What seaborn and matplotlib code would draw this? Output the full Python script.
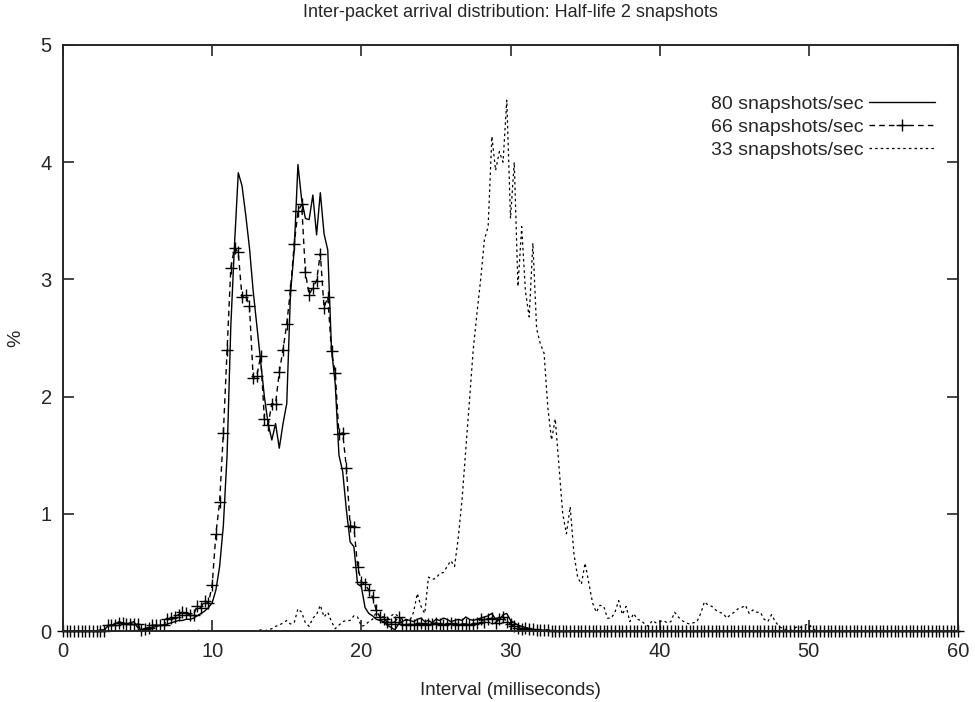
import numpy as np
import pandas as pd
import matplotlib
matplotlib.use('Agg')
import matplotlib.pyplot as plt
import seaborn as sns

# intervalos em bins de 0.25 ms, 0 .. 60
intervalo = np.arange(0, 60.001, 0.25)

# 80 snapshots/sec (linha cheia)
s80 = [
    0, 0, 0, 0, 0, 0, 0, 0, 0, 0, 0.01, 0.01, 0.04, 0.05, 0.06, 0.08, 0.07, 0.06, 0.07, 0.08,          # 0-5
    0.03, 0.01, 0.02, 0.03, 0.03, 0.04, 0.05, 0.05, 0.06, 0.07, 0.08, 0.09, 0.09, 0.10, 0.10, 0.11, 0.13, 0.15, 0.17, 0.20,  # 5-10
    0.24, 0.35, 0.55, 0.90, 1.50, 2.60, 3.30, 3.91, 3.80, 3.55, 3.27, 2.90, 2.60, 2.30, 2.00, 1.77, 1.63, 1.77, 1.56, 1.77,  # 10-15
    1.94, 2.88, 3.25, 3.98, 3.68, 3.52, 3.51, 3.72, 3.38, 3.74, 3.39, 3.25, 2.40, 2.11, 1.50, 1.36, 1.03, 0.76, 0.72, 0.40,  # 15-20
    0.38, 0.20, 0.15, 0.13, 0.10, 0.09, 0.08, 0.05, 0.03, 0.01, 0.06, 0.08, 0.10, 0.09, 0.08, 0.10, 0.11, 0.08, 0.09, 0.07,  # 20-25
    0.10, 0.09, 0.11, 0.10, 0.08, 0.09, 0.10, 0.09, 0.12, 0.10, 0.09, 0.10, 0.11, 0.12, 0.13, 0.15, 0.10, 0.09, 0.14, 0.15,  # 25-30
    0.09, 0.07, 0.05, 0.04, 0.03, 0.02, 0.01, 0.01, 0.01, 0, 0, 0, 0, 0, 0, 0, 0, 0, 0, 0,        # 30-35
    0, 0, 0, 0, 0, 0, 0, 0, 0, 0, 0, 0, 0, 0, 0, 0, 0, 0, 0, 0,        # 35-40
    0, 0, 0, 0, 0, 0, 0, 0, 0, 0, 0, 0, 0, 0, 0, 0, 0, 0, 0, 0,        # 40-45
    0, 0, 0, 0, 0, 0, 0, 0, 0, 0, 0, 0, 0, 0, 0, 0, 0, 0, 0, 0,        # 45-50
    0, 0, 0, 0, 0, 0, 0, 0, 0, 0, 0, 0, 0, 0, 0, 0, 0, 0, 0, 0,        # 50-55
    0, 0, 0, 0, 0, 0, 0, 0, 0, 0, 0, 0, 0, 0, 0, 0, 0, 0, 0, 0,        # 55-60
    0,
]

# 66 snapshots/sec (tracejada com +)
s66 = [
    0, 0, 0, 0, 0, 0, 0, 0, 0, 0, 0, 0, 0.05, 0.05, 0.05, 0.07, 0.07, 0.06, 0.06, 0.06,               # 0-5
    0.06, 0.01, 0.02, 0.03, 0.05, 0.05, 0.05, 0.05, 0.10, 0.11, 0.12, 0.14, 0.16, 0.15, 0.14, 0.14, 0.21, 0.20, 0.26, 0.24,  # 5-10
    0.39, 0.83, 1.10, 1.69, 2.40, 3.10, 3.27, 3.23, 2.85, 2.87, 2.77, 2.16, 2.18, 2.35, 1.81, 1.76, 1.94, 1.94, 2.21, 2.40,  # 10-15
    2.62, 2.91, 3.30, 3.58, 3.64, 3.06, 2.87, 2.93, 2.99, 3.22, 2.76, 2.85, 2.39, 2.20, 1.68, 1.69, 1.39, 0.90, 0.89, 0.55,  # 15-20
    0.42, 0.40, 0.35, 0.29, 0.18, 0.12, 0.10, 0.08, 0.06, 0.08, 0.12, 0.06, 0.05, 0.06, 0.05, 0.06, 0.07, 0.05, 0.06, 0.06,  # 20-25
    0.07, 0.06, 0.05, 0.06, 0.07, 0.06, 0.05, 0.06, 0.06, 0.05, 0.06, 0.07, 0.10, 0.08, 0.10, 0.11, 0.07, 0.10, 0.12, 0.08,  # 25-30
    0.06, 0.04, 0.03, 0.02, 0.03, 0.02, 0.02, 0.01, 0.01, 0.01, 0.01, 0, 0, 0, 0, 0, 0, 0, 0, 0,     # 30-35
    0, 0, 0, 0, 0, 0, 0, 0, 0, 0, 0, 0, 0, 0, 0, 0, 0, 0, 0, 0,        # 35-40
    0, 0, 0, 0, 0, 0, 0, 0, 0, 0, 0, 0, 0, 0, 0, 0, 0, 0, 0, 0,        # 40-45
    0, 0, 0, 0, 0, 0, 0, 0, 0, 0, 0, 0, 0, 0, 0, 0, 0, 0, 0, 0,        # 45-50
    0, 0, 0, 0, 0, 0, 0, 0, 0, 0, 0, 0, 0, 0, 0, 0, 0, 0, 0, 0,        # 50-55
    0, 0, 0, 0, 0, 0, 0, 0, 0, 0, 0, 0, 0, 0, 0, 0, 0, 0, 0, 0,        # 55-60
    0,
]

# 33 snapshots/sec (pontilhada)
s33 = [
    0, 0, 0, 0, 0, 0, 0, 0, 0, 0, 0, 0, 0, 0, 0, 0, 0, 0, 0, 0,        # 0-5
    0, 0, 0, 0, 0, 0, 0, 0, 0, 0, 0, 0, 0, 0, 0, 0, 0.01, 0, 0, 0,     # 5-10
    0, 0, 0, 0, 0, 0, 0, 0, 0, 0, 0, 0, 0, 0.01, 0, 0.01, 0.02, 0.04, 0.05, 0.07,                       # 10-15
    0.09, 0.06, 0.07, 0.19, 0.16, 0.07, 0.04, 0.11, 0.14, 0.22, 0.12, 0.16, 0.08, 0.02, 0.05, 0.08, 0.09, 0.09, 0.13, 0.12,  # 15-20
    0.04, 0.05, 0.08, 0.10, 0.16, 0.13, 0.12, 0.10, 0.13, 0.15, 0.12, 0.10, 0.09, 0.09, 0.16, 0.32, 0.21, 0.15, 0.46, 0.44,  # 20-25
    0.45, 0.49, 0.50, 0.55, 0.60, 0.55, 0.80, 1.12, 1.54, 1.97, 2.40, 2.71, 3.00, 3.34, 3.45, 4.22, 3.93, 4.09, 4.00, 4.53,  # 25-30
    3.52, 4.00, 2.94, 3.45, 2.90, 2.68, 3.31, 2.58, 2.45, 2.37, 1.91, 1.63, 1.81, 1.40, 1.00, 0.83, 1.06, 0.66, 0.46, 0.40,  # 30-35
    0.58, 0.41, 0.24, 0.16, 0.22, 0.21, 0.11, 0.11, 0.16, 0.26, 0.14, 0.21, 0.08, 0.15, 0.10, 0.09, 0.06, 0.04, 0.09, 0.07,  # 35-40
    0.08, 0.09, 0.07, 0.08, 0.16, 0.12, 0.09, 0.07, 0.06, 0.07, 0.08, 0.15, 0.25, 0.22, 0.21, 0.18, 0.16, 0.15, 0.11, 0.14,  # 40-45
    0.16, 0.19, 0.20, 0.22, 0.15, 0.18, 0.16, 0.16, 0.10, 0.08, 0.14, 0.08, 0.04, 0.02, 0.01, 0, 0.02, 0.04, 0.03, 0.05,      # 45-50
    0.06, 0.02, 0, 0, 0, 0, 0, 0, 0, 0, 0, 0, 0, 0, 0, 0, 0, 0, 0, 0,  # 50-55
    0, 0, 0, 0, 0, 0, 0, 0, 0, 0, 0, 0, 0, 0, 0, 0, 0, 0, 0, 0,        # 55-60
    0,
]

rotulos = ['80 snapshots/sec', '66 snapshots/sec', '33 snapshots/sec']

sns.set_style('ticks')
plt.rcParams['font.family'] = ['Liberation Sans', 'DejaVu Sans']

fig = plt.figure(figsize=(9.75, 7.02), dpi=100)
ax = fig.add_axes([0.0646, 0.1011, 0.9180, 0.8348])

sns.lineplot(x=intervalo, y=s80, ax=ax, color='black', lw=1.0, label=rotulos[0])
sns.lineplot(x=intervalo, y=s66, ax=ax, color='black', lw=1.0, linestyle=(0, (4, 3)),
             marker='+', markersize=9, markeredgewidth=1.0, markeredgecolor='black',
             clip_on=False, label=rotulos[1])
sns.lineplot(x=intervalo, y=s33, ax=ax, color='black', lw=0.9, linestyle=(0, (2, 2.5)),
             label=rotulos[2])

ax.set_xlim(0, 60)
ax.set_ylim(0, 5)
ax.set_xticks(range(0, 61, 10))
ax.set_yticks(range(0, 6))
ax.tick_params(direction='in', length=8, width=1.2, labelsize=14.5, top=True, right=True, pad=8)
for s in ax.spines.values():
    s.set_linewidth(1.4)

ax.set_title('Inter-packet arrival distribution: Half-life 2 snapshots', fontsize=13, pad=20)
ax.set_xlabel('Interval (milliseconds)', fontsize=13.5, labelpad=15)
ax.set_ylabel('%', fontsize=14, labelpad=12)

ax.legend(loc='upper right', bbox_to_anchor=(0.983, 0.927), markerfirst=False, frameon=False,
          fontsize=14, handlelength=3.4, handletextpad=0.3, labelspacing=0.28, borderaxespad=0,
          numpoints=1)

fig.savefig('out.png', dpi=100)
plt.close(fig)
